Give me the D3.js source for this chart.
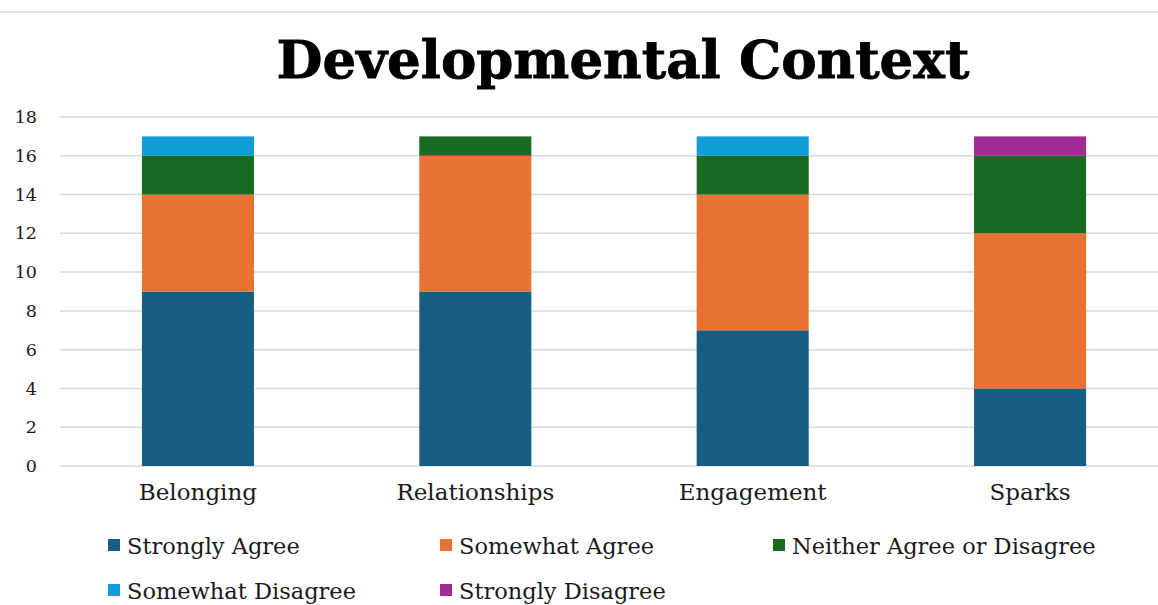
<!DOCTYPE html>
<html>
<head>
<meta charset="utf-8">
<script src="https://cdn.jsdelivr.net/npm/d3@7"></script>
<style>
  html, body { margin: 0; padding: 0; background: #fff; }
  svg { display: block; }
</style>
</head>
<body>
<svg id="chart" width="1158" height="605"></svg>
<script>
// Survey responses per developmental context area
const categories = ["Belonging", "Relationships", "Engagement", "Sparks"];
const seriesNames = ["Strongly Agree", "Somewhat Agree", "Neither Agree or Disagree", "Somewhat Disagree", "Strongly Disagree"];
const stronglyAgree   = [9, 9, 7, 4];
const somewhatAgree   = [5, 7, 7, 8];
const neither         = [2, 1, 2, 4];
const somewhatDisagree = [1, 0, 1, 0];
const stronglyDisagree = [0, 0, 0, 1];
const yTicks = [0, 2, 4, 6, 8, 10, 12, 14, 16, 18];
const colors = ["#175E82", "#E97132", "#196B24", "#0F9ED5", "#A02B93"];

const seriesValues = [stronglyAgree, somewhatAgree, neither, somewhatDisagree, stronglyDisagree];
const rows = categories.map((c, i) => {
  const r = { category: c };
  seriesNames.forEach((s, k) => { r[s] = seriesValues[k][i]; });
  return r;
});

const svg = d3.select("#chart");
const serif = "'DejaVu Serif', serif";

// frame line along the top
svg.append("line")
  .attr("x1", 0).attr("x2", 1158).attr("y1", 12).attr("y2", 12)
  .attr("stroke", "#d4d4d4").attr("stroke-width", 1.5);

// title
svg.append("text")
  .attr("x", 623).attr("y", 78)
  .attr("text-anchor", "middle")
  .attr("font-family", serif)
  .attr("font-weight", "bold")
  .attr("font-size", 53)
  .attr("fill", "#000")
  .attr("stroke", "#000").attr("stroke-width", 0.8)
  .text("Developmental Context");

const x = d3.scaleBand().domain(categories).range([59.25, 1168.75]).paddingInner(0.596).paddingOuter(0.298);
const y = d3.scaleLinear().domain([0, 18]).range([466, 117]);

// gridlines
svg.append("g")
  .selectAll("line")
  .data(yTicks)
  .join("line")
  .attr("x1", 60).attr("x2", 1158)
  .attr("y1", d => y(d)).attr("y2", d => y(d))
  .attr("stroke", "#d9d9d9").attr("stroke-width", 1.5);

// y tick labels
const yAxis = d3.axisLeft(y).tickValues(yTicks).tickSize(0).tickPadding(0);
const gy = svg.append("g").attr("transform", "translate(37,0)").call(yAxis);
gy.select(".domain").remove();
gy.selectAll("text")
  .attr("font-family", serif).attr("font-size", 17.5).attr("fill", "#1a1a1a");

// stacked bars
const stack = d3.stack().keys(seriesNames);
const layers = stack(rows);
svg.append("g")
  .selectAll("g")
  .data(layers)
  .join("g")
  .attr("fill", (d, i) => colors[i])
  .selectAll("rect")
  .data(d => d.filter(p => p[1] - p[0] > 0))
  .join("rect")
  .attr("x", d => x(d.data.category))
  .attr("width", x.bandwidth())
  .attr("y", d => y(d[1]))
  .attr("height", d => y(d[0]) - y(d[1]));

// x axis labels
const xAxis = d3.axisBottom(x).tickSize(0).tickPadding(0);
const gx = svg.append("g").attr("transform", "translate(0,479)").call(xAxis);
gx.select(".domain").remove();
gx.selectAll("text")
  .attr("font-family", serif).attr("font-size", 23).attr("fill", "#1a1a1a")
  .attr("dy", "0.9em");

// legend
const legendPos = [
  [108, 546], [440, 546], [773, 546],
  [108, 591], [440, 591]
];
const legend = svg.append("g")
  .selectAll("g")
  .data(seriesNames)
  .join("g")
  .attr("transform", (d, i) => `translate(${legendPos[i][0]},${legendPos[i][1]})`);
legend.append("rect")
  .attr("x", 0).attr("y", -7).attr("width", 12).attr("height", 12)
  .attr("fill", (d, i) => colors[i]);
legend.append("text")
  .attr("x", 19).attr("y", 0).attr("dy", "0.35em")
  .attr("font-family", serif).attr("font-size", 22.5).attr("fill", "#1a1a1a")
  .text(d => d);
</script>
</body>
</html>
